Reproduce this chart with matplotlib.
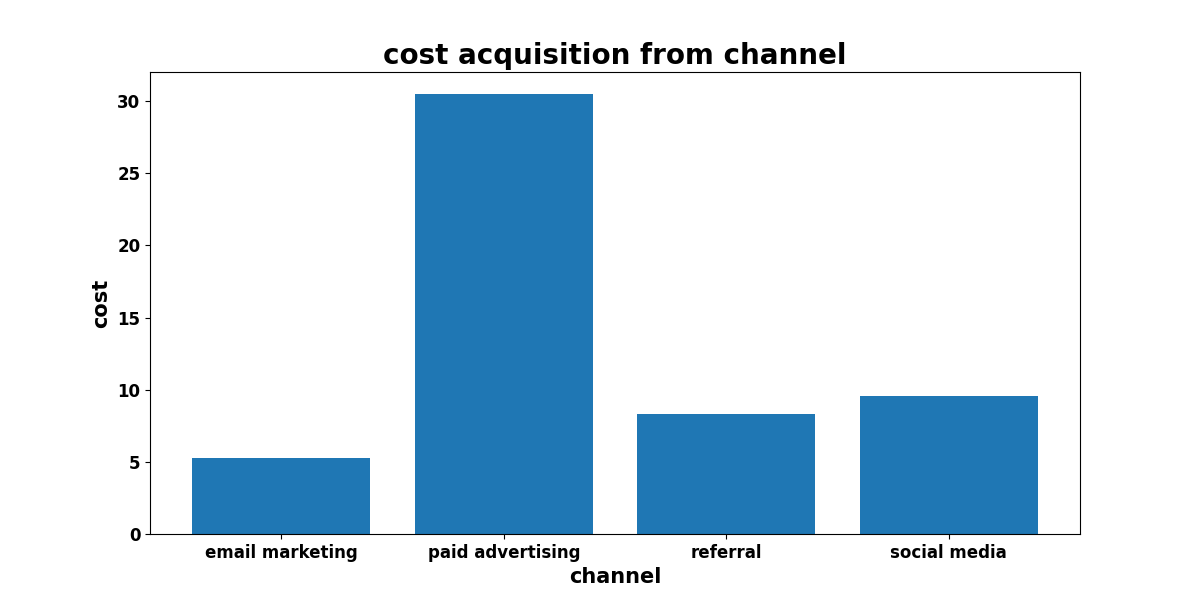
import matplotlib
matplotlib.use("Agg")
import matplotlib.pyplot as plt

channels = ["email marketing", "paid advertising", "referral", "social media"]
costs = [5.27, 30.49, 8.32, 9.56]

fig, ax = plt.subplots(figsize=(12, 6), dpi=100)
ax.bar(channels, costs, color="#1f77b4")
ax.set_title("cost acquisition from channel", fontsize=20, fontweight="bold")
ax.set_xlabel("channel", fontsize=15, fontweight="bold")
ax.set_ylabel("cost", fontsize=15, fontweight="bold")
for lbl in ax.get_xticklabels() + ax.get_yticklabels():
    lbl.set_fontweight("bold")
    lbl.set_fontsize(12)
fig.savefig("out.png", dpi=100)
